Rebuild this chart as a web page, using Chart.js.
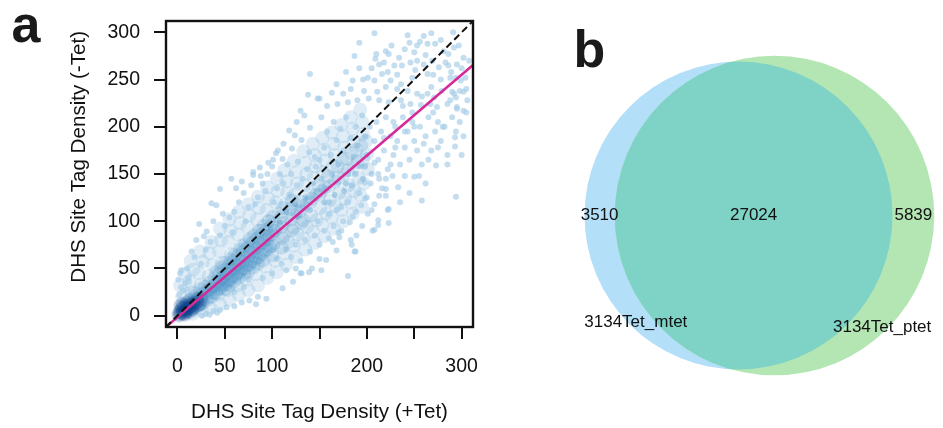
<!DOCTYPE html>
<html>
<head>
<meta charset="utf-8">
<script src="https://cdn.jsdelivr.net/npm/chart.js@4.4.1/dist/chart.umd.min.js"></script>
<style>
  body { margin: 0; background: #fff; }
  #wrap { position: relative; width: 943px; height: 428px; }
  #scatter { position: absolute; left: 0; top: 0; }
  #venn { position: absolute; left: 480px; top: 0; }
</style>
</head>
<body>
<div id="wrap">
  <canvas id="scatter" width="480" height="428"></canvas>
  <canvas id="venn" width="463" height="428"></canvas>
</div>
<script>
// panel a: DHS site tag density, +Tet vs -Tet
const tickValues = [0, 50, 100, 150, 200, 250, 300]
const xTickLabels = [0, 50, 100, 200, 300]
const yTickLabels = [0, 50, 100, 150, 200, 250, 300]
const axisRange = [-12, 312]

// dark cluster near the origin
const coreCloud = [
  [1,1],[2,4],[3,2],[4,6],[5,3],[5,8],[6,5],[7,2],[7,9],[8,6],[9,4],[9,11],
  [10,7],[11,5],[11,10],[12,8],[13,12],[14,7],[14,10],[16,11],[17,14],[18,9],
  [19,13],[21,15],[3,10],[6,12],[10,14],[2,0],[8,1],[13,4],[16,7],[22,11],
  [25,17],[24,12],[20,18]
]

// main band along the fit line
const bandCloud = [
  [3,4],[5,8],[6,2],[4,12],[8,5],
  [10,7],[11,12],[9,3],[12,16],[13,9],
  [15,10],[16,6],[14,17],[17,13],[18,20],
  [20,14],[21,9],[22,18],[19,24],[23,12],
  [25,20],[26,13],[24,28],[27,17],[28,24],
  [30,22],[31,16],[29,31],[32,27],[33,19],
  [35,28],[36,20],[34,35],[37,31],[38,24],
  [40,32],[41,24],[39,40],[42,36],[43,28],[41,46],
  [45,37],[46,29],[44,44],[47,40],[48,33],[46,51],
  [50,41],[51,33],[49,48],[52,45],[53,37],[51,56],[50,28],
  [55,46],[56,38],[54,53],[57,50],[58,41],[56,60],[55,32],
  [60,50],[61,42],[59,58],[62,54],[63,45],[61,65],[60,36],
  [65,54],[66,46],[64,63],[67,58],[68,49],[66,70],[65,40],
  [70,58],[71,50],[69,68],[72,62],[73,53],[71,75],[70,44],
  [75,63],[76,54],[74,72],[77,67],[78,57],[76,80],[75,47],
  [80,68],[81,58],[79,77],[82,72],[83,61],[81,85],[80,51],
  [85,72],[86,62],[84,82],[87,76],[88,65],[86,90],[85,55],
  [90,77],[91,66],[89,86],[92,80],[93,69],[91,95],[90,58],
  [95,81],[96,70],[94,91],[97,85],[98,73],[96,100],
  [100,86],[101,74],[99,95],[102,90],[103,77],[101,105],[100,64],
  [110,94],[111,82],[109,104],[112,98],[113,85],[111,114],[110,72],
  [120,102],[121,90],[119,113],[122,107],[123,93],[121,122],
  [130,111],[131,98],[129,121],[132,116],[133,101],
  [140,120],[141,106],[139,130],[142,124],
  [150,128],[151,114],[149,138],[152,132],
  [160,137],[161,122],[159,148],[170,146],[171,130],[169,158],
  [180,154],[181,138],[179,166],[190,163],[191,146],[189,176],
  [200,171],[201,155],[199,185]
]

// lighter spread either side of the band
const haloCloud = [
  [5,20],[3,32],[8,44],
  [15,25],[13,37],[17,49],[14,58],[16,2],
  [25,33],[23,45],[27,57],[24,68],[26,5],
  [35,8],[33,42],[37,54],[34,66],[36,78],
  [45,12],[43,22],[47,56],[44,68],[46,80],[45,92],
  [55,17],[53,27],[57,65],[54,78],[56,90],[55,102],
  [65,22],[63,32],[67,74],[64,86],[66,98],[65,110],
  [75,27],[73,38],[77,82],[74,94],[76,106],[75,118],
  [85,32],[83,44],[87,90],[84,102],[86,114],[85,126],
  [95,40],[93,52],[97,100],[94,112],[96,124],[95,136],
  [105,46],[103,58],[107,108],[104,120],[106,132],[105,145],[103,90],
  [115,54],[113,66],[117,78],[114,118],[116,130],[115,142],[113,154],
  [125,62],[123,74],[127,86],[124,128],[126,140],[125,152],[123,164],[126,110],
  [135,70],[133,82],[137,94],[134,138],[136,150],[135,162],[133,174],[136,118],
  [145,77],[143,89],[147,101],[144,146],[146,158],[145,170],[143,182],[146,128],
  [155,84],[153,96],[157,108],[154,152],[156,164],[155,176],[153,188],[156,136],
  [165,92],[163,104],[167,116],[164,158],[166,170],[165,182],[163,194],[166,142],
  [175,100],[173,112],[177,124],[174,165],[176,178],[175,190],[173,202],[176,150],
  [185,108],[183,120],[187,132],[184,172],[186,185],[185,198],[183,210],[186,158],
  [195,115],[193,128],[197,140],[194,180],[196,192],[195,205],[193,218],[196,165]
]

// individual sites away from the band
const outerPoints = [
  [208,299],[243,297],[260,296],[268,299],[192,289],[245,289],[264,288],[253,286],[272,288],
  [187,275],[210,277],[220,280],[223,277],[234,273],[250,279],[281,280],[286,277],[292,284],
  [213,266],[216,256],[222,258],[229,265],[237,265],[246,268],[253,270],[260,266],[269,270],
  [276,263],[286,265],[295,266],[302,273],[201,252],[208,249],[225,249],[236,245],[248,252],
  [264,256],[288,252],[299,249],[304,252],[185,249],[197,238],[211,237],[220,242],[232,240],
  [243,238],[253,235],[264,235],[271,231],[279,238],[292,235],[302,237],[306,228],[148,230],
  [169,224],[180,226],[190,228],[202,230],[213,228],[223,226],[236,228],[246,224],[257,223],
  [267,224],[274,221],[285,224],[295,221],[302,217],[291,300],[294,252],[294,231],[295,219],
  [290,237],
  [150,165],[155,178],[158,195],[162,170],[165,205],[168,186],[170,160],[172,198],[175,175],
  [178,210],[180,150],[183,188],[186,168],[188,200],[190,180],[193,158],[195,212],[198,190],
  [200,170],[203,200],[205,150],[208,185],[210,205],[212,165],[215,195],[218,175],[220,210],
  [222,155],[225,190],[228,170],[230,200],[232,185],[235,160],[238,210],[240,178],[243,195],
  [245,165],[248,205],[250,185],[253,175],[256,200],[258,160],[262,190],[265,210],[268,175],
  [272,195],[275,205],[278,185],[282,200],[285,170],[290,210],[294,195],[298,205],[302,190],
  [305,215],
  [102,120],[105,135],[108,98],[112,140],[115,110],[118,128],[120,150],[124,118],[126,138],
  [128,105],[132,145],[135,125],[137,155],[140,112],[143,140],[146,158],[148,100],[152,145],
  [155,120],[158,135],[160,108],[163,150],[166,128],[170,140],[173,115],[176,132],[180,120],
  [184,138],[188,110],[192,130],[196,145],[200,125],[204,140],[208,118],[212,150],[216,135],
  [220,145],
  [105,60],[110,55],[115,70],[120,62],[125,75],[130,58],[135,80],[140,68],[145,85],[150,75],
  [155,90],[160,82],[165,95],[170,88],[175,100],[185,105],[195,95],[150,60],[142,50],[130,45],
  [23,97],[36,119],[41,117],[45,134],[57,145],[80,149],[55,104],[15,68],[4,48],[20,80],
  [31,89],[140,256],[138,234],[150,230],[130,217],[140,199],[124,191],[131,186],[121,177],
  [106,175],[101,165],[87,157],[80,152],[139,173],[145,168],[127,163],[111,166],[65,120],
  [70,130],[60,110],[75,115],[85,125],[90,140],[95,150],[100,158],[50,95],[45,85],[30,70],
  [35,78],[10,50],[12,40],[25,55],
  [2,22],[4,30],[1,38],[6,26],[8,34],[3,45],[10,28],[12,36],
  [139,46],[131,45],[125,50],[83,12],[94,18],[111,29],[122,36],[180,42],[184,75],[187,68],
  [208,91],[222,112],[223,98],[294,126],[258,122],[250,147],[240,148],[233,136],[227,148],
  [220,134],[220,127],[223,113],[212,101],[212,96],[206,90],[201,108],[205,112],[189,85],
  [183,80],[188,68],[168,69],[164,78],[157,59],[152,48],[171,83],[173,90],[182,99],[194,117],
  [198,124],[213,127],[198,141],[213,145],[273,159],[293,189],[293,179],[60,25],[70,30],
  [75,38],[100,45],[90,40],[115,48],
  [30,2],[38,5],[45,6],[52,9],[60,10],[68,14],[76,16],[85,20],[26,0],[34,1],[42,3],
  [152,210],[158,222],[163,236],[168,245],[175,235],[178,258],[183,240],[192,262],[196,250],
  [205,262],[209,272],[218,268],[226,286],[232,255],[240,282],[251,260],[256,290],[262,276],
  [270,255],[278,292],[283,268],[289,258],[297,286],[300,262],[305,240],[308,270],
  [160,120],[168,112],[178,140],[188,150],[198,158],[208,162],[218,188],[228,205],[238,222],
  [248,215],[258,232],[268,242],[278,250],[288,228],[298,238],[255,148],[265,165],[275,178],
  [285,160],[300,170],[245,130],[235,120],[262,140],[280,200],[270,215],[260,182],[250,200],
  [240,195],[230,178],[225,160],
  [62,135],[68,142],[78,138],[88,148],[96,162],[104,172],[112,182],[118,196],[126,205],
  [134,212],[108,150],[116,160],[93,132],[82,118],[72,100],[58,88],[48,108],[38,100],
  [28,84],[18,62]
]

// regression line (magenta) and y = x (dashed)
const fitSlope = 0.856
const fitIntercept = -1.7

// panel b: overlap of DHS sites
const vennNames = ['3134Tet_mtet', '3134Tet_ptet']
const vennOnly = [3510, 5839]
const vennShared = 27024

const toXY = pts => pts.map(([x, y]) => ({ x, y }))
const tickFont = { family: '"Liberation Sans", Arial, sans-serif', size: 19.5 }
const titleFont = { family: '"Liberation Sans", Arial, sans-serif', size: 20.6 }

const framePlugin = {
  id: 'frame',
  afterDraw(chart) {
    const { ctx, chartArea: a } = chart
    ctx.save()
    ctx.strokeStyle = '#111'
    ctx.lineWidth = 2.4
    ctx.strokeRect(a.left, a.top, a.right - a.left, a.bottom - a.top)
    ctx.restore()
  }
}

function panelLetter(letter, x, y) {
  return {
    id: 'letter' + letter,
    afterDraw(chart) {
      const ctx = chart.ctx
      ctx.save()
      ctx.font = 'bold 52px "Liberation Sans", Arial, sans-serif'
      ctx.fillStyle = '#1a1a1a'
      ctx.textBaseline = 'alphabetic'
      ctx.fillText(letter, x, y)
      ctx.restore()
    }
  }
}

// drop the label-overflow padding so the plot box keeps its size
function fixBox(size, key) {
  return s => {
    s[key] = size
    s.paddingLeft = s.paddingRight = s.paddingTop = s.paddingBottom = 0
  }
}

new Chart(document.getElementById('scatter'), {
  type: 'scatter',
  data: {
    datasets: [
      {
        type: 'line',
        data: axisRange.map(v => ({ x: v, y: v })),
        borderColor: '#111', borderWidth: 2, borderDash: [7, 4], pointRadius: 0
      },
      {
        type: 'line',
        data: axisRange.map(v => ({ x: v, y: fitSlope * v + fitIntercept })),
        borderColor: '#d62a98', borderWidth: 2.5, pointRadius: 0
      },
      { data: toXY(coreCloud), pointRadius: 7, backgroundColor: 'rgba(8,60,135,0.15)', borderWidth: 0 },
      { data: toXY(bandCloud), pointRadius: 7, backgroundColor: 'rgba(50,130,190,0.17)', borderWidth: 0 },
      { data: toXY(outerPoints), pointRadius: 3, backgroundColor: 'rgba(165,205,232,0.65)', borderWidth: 0 },
      { data: toXY(haloCloud), pointRadius: 7, backgroundColor: 'rgba(100,165,212,0.2)', borderWidth: 0 }
    ]
  },
  options: {
    responsive: false,
    animation: false,
    events: [],
    layout: { padding: { top: 21, right: 7, left: 0, bottom: 0 } },
    plugins: { legend: { display: false }, tooltip: { enabled: false } },
    scales: {
      x: {
        type: 'linear', min: axisRange[0], max: axisRange[1],
        afterFit: fixBox(101, 'height'),
        afterBuildTicks: s => { s.ticks = tickValues.map(v => ({ value: v })) },
        ticks: {
          padding: 16, font: tickFont, color: '#111', maxRotation: 0, autoSkip: false,
          callback: v => xTickLabels.includes(v) ? String(v) : ''
        },
        grid: { drawOnChartArea: false, tickLength: 12, lineWidth: 2, color: '#111' },
        border: { display: false },
        title: {
          display: true, text: 'DHS Site Tag Density (+Tet)', font: titleFont, color: '#111',
          padding: { top: 0, bottom: 3 }
        }
      },
      y: {
        type: 'linear', min: axisRange[0], max: axisRange[1],
        afterFit: fixBox(166, 'width'),
        afterBuildTicks: s => { s.ticks = tickValues.map(v => ({ value: v })) },
        ticks: {
          padding: 14, font: tickFont, color: '#111', autoSkip: false,
          callback: v => yTickLabels.includes(v) ? String(v) : ''
        },
        grid: { drawOnChartArea: false, tickLength: 12, lineWidth: 2, color: '#111' },
        border: { display: false },
        title: {
          display: true, text: '      DHS Site Tag Density (-Tet)', font: titleFont, color: '#111',
          padding: { top: 67, bottom: 0 }
        }
      }
    }
  },
  plugins: [framePlugin, panelLetter('a', 11.5, 41.5)]
})

// venn layout: radii from set sizes, centre distance solved so the lens holds the shared count
const r1 = Math.sqrt((vennOnly[0] + vennShared) / Math.PI)
const r2 = Math.sqrt((vennOnly[1] + vennShared) / Math.PI)
function lensArea(d) {
  const a1 = Math.acos((d * d + r1 * r1 - r2 * r2) / (2 * d * r1))
  const a2 = Math.acos((d * d + r2 * r2 - r1 * r1) / (2 * d * r2))
  const k = Math.sqrt((-d + r1 + r2) * (d + r1 - r2) * (d - r1 + r2) * (d + r1 + r2))
  return r1 * r1 * a1 + r2 * r2 * a2 - k / 2
}
let lo = Math.abs(r1 - r2) + 1e-6, hi = r1 + r2
for (let i = 0; i < 60; i++) {
  const mid = (lo + hi) / 2
  if (lensArea(mid) > vennShared) lo = mid; else hi = mid
}
const centreDist = (lo + hi) / 2

const radiusPx = (chart, r) => {
  const s = chart.scales.x
  return Math.abs(s.getPixelForValue(r) - s.getPixelForValue(0))
}

const vennText = {
  id: 'vennText',
  beforeDatasetDraw(chart, args) {
    if (args.index !== 2) return
    const g = chart.getDatasetMeta(1).data[0]
    const ctx = chart.ctx
    ctx.save()
    ctx.beginPath()
    ctx.arc(g.x, g.y, g.options.radius, 0, Math.PI * 2)
    ctx.clip()
  },
  afterDatasetDraw(chart, args) {
    if (args.index === 2) chart.ctx.restore()
  },
  afterDatasetsDraw(chart) {
    const b = chart.getDatasetMeta(0).data[0]
    const g = chart.getDatasetMeta(1).data[0]
    const rb = b.options.radius, rg = g.options.radius
    const ctx = chart.ctx
    ctx.save()
    ctx.font = '17px "Liberation Sans", Arial, sans-serif'
    ctx.fillStyle = '#111'
    ctx.textAlign = 'center'
    ctx.textBaseline = 'middle'
    ctx.fillText(String(vennOnly[0]), ((b.x - rb) + (g.x - rg)) / 2, b.y)
    ctx.fillText(String(vennShared), ((g.x - rg) + (b.x + rb)) / 2, b.y)
    ctx.fillText(String(vennOnly[1]), ((b.x + rb) + (g.x + rg)) / 2, g.y)
    const angB = 134 * Math.PI / 180, angG = 46 * Math.PI / 180
    ctx.fillText(vennNames[0], b.x + 0.96 * rb * Math.cos(angB), b.y + 0.96 * rb * Math.sin(angB))
    ctx.fillText(vennNames[1], g.x + 0.97 * rg * Math.cos(angG), g.y + 0.97 * rg * Math.sin(angG))
    ctx.restore()
  }
}

new Chart(document.getElementById('venn'), {
  type: 'scatter',
  data: {
    datasets: [
      {
        data: [{ x: -centreDist / 2, y: 0 }], order: 3,
        pointRadius: c => radiusPx(c.chart, r1), backgroundColor: '#b4dff9', borderWidth: 0
      },
      {
        data: [{ x: centreDist / 2, y: 0 }], order: 2,
        pointRadius: c => radiusPx(c.chart, r2), backgroundColor: '#b3e6b3', borderWidth: 0
      },
      {
        data: [{ x: -centreDist / 2, y: 0 }], order: 1,
        pointRadius: c => radiusPx(c.chart, r1), backgroundColor: '#7fd2c6', borderWidth: 0
      }
    ]
  },
  options: {
    responsive: false,
    animation: false,
    events: [],
    layout: { padding: 0 },
    plugins: { legend: { display: false }, tooltip: { enabled: false } },
    scales: {
      x: { type: 'linear', min: -177, max: 119.4, display: false },
      y: { type: 'linear', min: -136, max: 138, display: false }
    }
  },
  plugins: [vennText, panelLetter('b', 93.5, 66.5)]
})
</script>
</body>
</html>
